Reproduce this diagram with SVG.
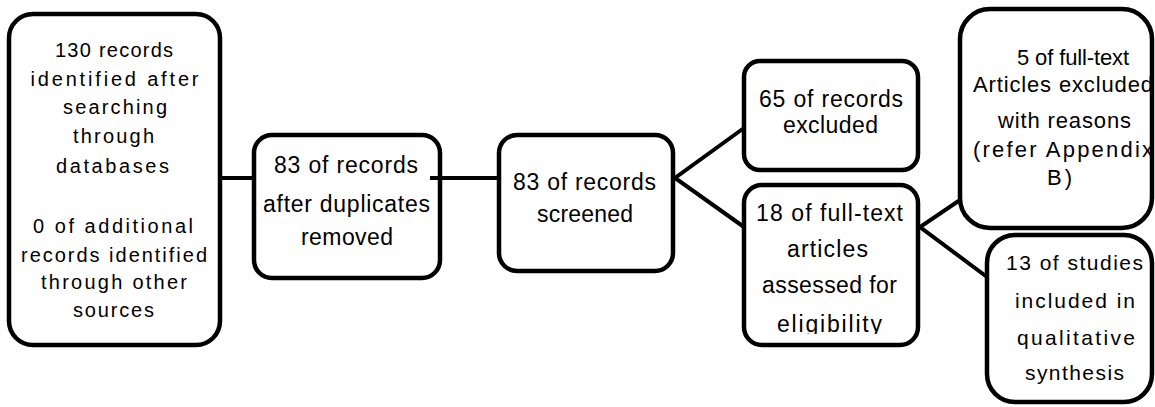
<svg xmlns="http://www.w3.org/2000/svg" width="1155" height="407" viewBox="0 0 1155 407">
  <style>
    .box { fill: #ffffff; stroke: #000000; stroke-width: 4.5; }
    .conn { fill: none; stroke: #000000; stroke-width: 4; stroke-linejoin: miter; }
    text { font-family: "Liberation Sans", Arial, sans-serif; fill: #000000; text-anchor: middle; }
    .t19 { font-size: 20px; }
    .t22 { font-size: 23px; }
    .t21 { font-size: 22px; }
    .t20 { font-size: 21px; }
  </style>
  <defs>
    <clipPath id="clip18">
      <rect x="744" y="185" width="174" height="149"/>
    </clipPath>
  </defs>
  <rect width="1155" height="407" fill="#ffffff"/>

  <g id="n1">
    <rect class="box" x="9" y="14" width="211" height="331" rx="24"/>
    <text class="t19" x="114" y="57" textLength="118" lengthAdjust="spacing">130 records</text>
    <text class="t19" x="114.5" y="86" textLength="168" lengthAdjust="spacing">identified after</text>
    <text class="t19" x="115" y="114" textLength="104" lengthAdjust="spacing">searching</text>
    <text class="t19" x="113.5" y="143" textLength="81" lengthAdjust="spacing">through</text>
    <text class="t19" x="112.5" y="173" textLength="113" lengthAdjust="spacing">databases</text>
    <text class="t19" x="113" y="233" textLength="160" lengthAdjust="spacing">0 of additional</text>
    <text class="t19" x="114" y="262" textLength="186" lengthAdjust="spacing">records identified</text>
    <text class="t19" x="114" y="289" textLength="146" lengthAdjust="spacing">through other</text>
    <text class="t19" x="113.5" y="317" textLength="81" lengthAdjust="spacing">sources</text>
  </g>

  <g id="n2">
    <rect class="box" x="254" y="135" width="186" height="143" rx="18"/>
    <text class="t22" x="346" y="173" textLength="144" lengthAdjust="spacing">83 of records</text>
    <text class="t22" x="346.5" y="212" textLength="167" lengthAdjust="spacing">after duplicates</text>
    <text class="t22" x="347" y="245" textLength="92" lengthAdjust="spacing">removed</text>
  </g>

  <g id="n3">
    <rect class="box" x="499" y="135" width="174" height="136" rx="18"/>
    <text class="t22" x="584.5" y="190" textLength="143" lengthAdjust="spacing">83 of records</text>
    <text class="t22" x="585" y="222" textLength="96" lengthAdjust="spacing">screened</text>
  </g>

  <g id="n4">
    <rect class="box" x="744" y="61" width="174" height="109" rx="16"/>
    <text class="t22" x="831" y="107" textLength="144" lengthAdjust="spacing">65 of records</text>
    <text class="t22" x="830.5" y="133" textLength="95" lengthAdjust="spacing">excluded</text>
  </g>

  <g id="n5">
    <rect class="box" x="744" y="185" width="174" height="160" rx="18"/>
    <text class="t22" x="829.5" y="221" textLength="147" lengthAdjust="spacing">18 of full-text</text>
    <text class="t22" x="827.5" y="257" textLength="81" lengthAdjust="spacing">articles</text>
    <text class="t22" x="829.5" y="293" textLength="135" lengthAdjust="spacing">assessed for</text>
    <text class="t22" x="829.5" y="332" textLength="105" lengthAdjust="spacing" clip-path="url(#clip18)">eligibility</text>
  </g>

  <g id="n6">
    <rect class="box" x="960" y="9" width="192" height="219" rx="30"/>
    <text class="t21" x="1073" y="65" textLength="112" lengthAdjust="spacing">5 of full-text</text>
    <text class="t21" x="1063" y="92" textLength="180" lengthAdjust="spacing">Articles excluded</text>
    <text class="t21" x="1064.5" y="128" textLength="133" lengthAdjust="spacing">with reasons</text>
    <text class="t21" x="1063" y="157" textLength="180" lengthAdjust="spacing">(refer Appendix</text>
    <text class="t21" x="1059.5" y="185" textLength="25" lengthAdjust="spacing">B)</text>
  </g>

  <g id="n7">
    <rect class="box" x="987" y="235" width="165" height="167" rx="28"/>
    <text class="t20" x="1074.5" y="270" textLength="137" lengthAdjust="spacing">13 of studies</text>
    <text class="t20" x="1075" y="308" textLength="120" lengthAdjust="spacing">included in</text>
    <text class="t20" x="1076" y="345" textLength="118" lengthAdjust="spacing">qualitative</text>
    <text class="t20" x="1074.5" y="380" textLength="99" lengthAdjust="spacing">synthesis</text>
  </g>

  <g id="connectors">
    <path class="conn" d="M220 178 H254"/>
    <path class="conn" d="M430 178 H499"/>
    <path class="conn" d="M744 128 L675 178 L744 227"/>
    <path class="conn" d="M960 200 L920 227 L987 277"/>
  </g>
</svg>
